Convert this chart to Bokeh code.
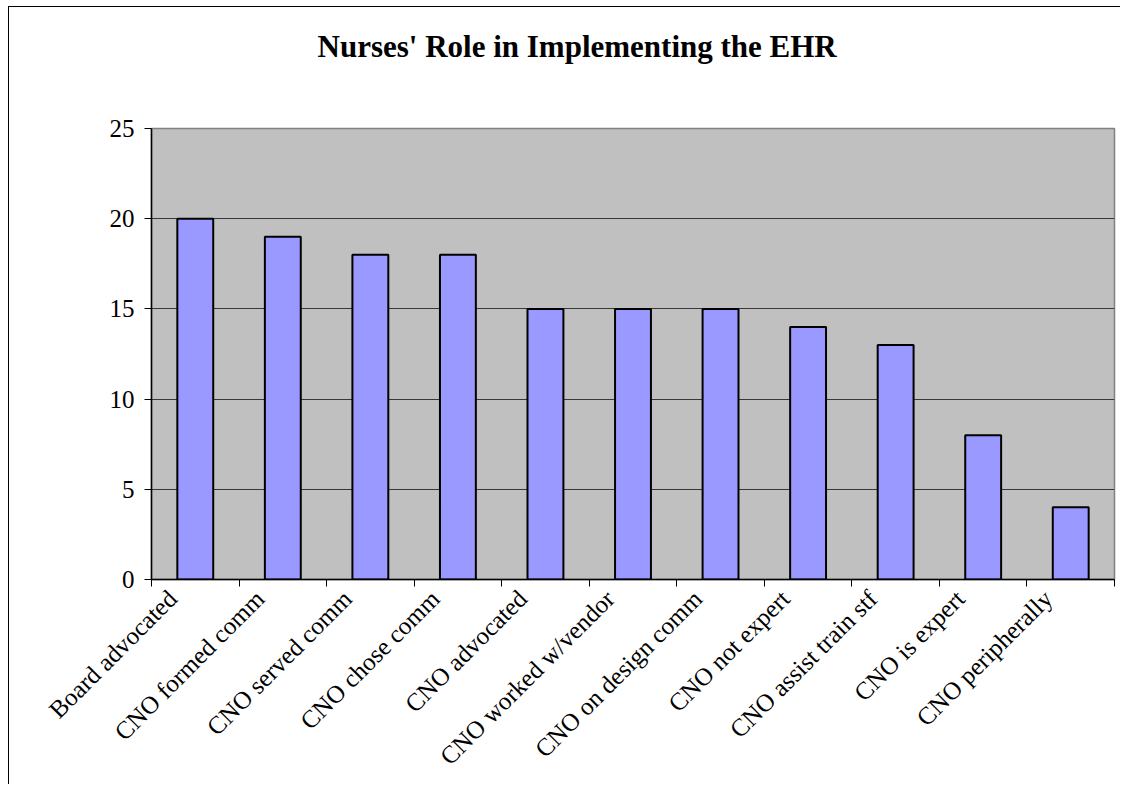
from bokeh.plotting import figure
from bokeh.models import Range1d, FixedTicker, Title
from bokeh.embed import file_html
from bokeh.resources import INLINE
import math

categories = ["Board advocated", "CNO formed comm", "CNO served comm", "CNO chose comm",
              "CNO advocated", "CNO worked w/vendor", "CNO on design comm", "CNO not expert",
              "CNO assist train stf", "CNO is expert", "CNO peripherally"]
values = [20, 19, 18, 18, 15, 15, 15, 14, 13, 8, 4]
y_ticks = [0, 5, 10, 15, 20, 25]
title_text = "Nurses' Role in Implementing the EHR"

n = len(categories)
centers = [i + 0.5 for i in range(n)]
label_pos = [round(c - 0.26, 4) for c in centers]

p = figure(width=1112, height=778, output_backend="svg", toolbar_location=None,
           x_range=Range1d(0, n), y_range=Range1d(0, 25),
           min_border_left=142, min_border_right=7, min_border_top=121, min_border_bottom=206)
p.styles = {"margin-left": "8px", "margin-top": "6px",
            "border-left": "1.5px solid #000000", "border-top": "1.5px solid #000000"}

p.title = Title(text=title_text, align="left", offset=166, text_font="Liberation Serif",
                text_font_size="31px", text_font_style="bold", text_color="#000000", standoff=10)
# empty spacer between the title and the plot area
p.add_layout(Title(text=" ", text_font_size="10px", standoff=47), "above")

p.background_fill_color = "#C0C0C0"
p.border_fill_color = "#FFFFFF"
p.outline_line_color = "#808080"
p.outline_line_width = 1.5

p.vbar(x=centers, top=values, width=0.41, bottom=0, fill_color="#9999FF",
       line_color="#000000", line_width=2)

xa = p.xaxis[0]
xa.ticker = FixedTicker(ticks=label_pos, minor_ticks=list(range(n + 1)))
xa.major_label_overrides = {pos: lab for pos, lab in zip(label_pos, categories)}
xa.major_label_orientation = math.pi / 4
xa.major_tick_line_color = None
xa.major_tick_in = 0
xa.major_tick_out = 0
xa.minor_tick_in = 0
xa.minor_tick_out = 7
xa.minor_tick_line_color = "#000000"
xa.axis_line_color = "#000000"
xa.axis_line_width = 1.5
xa.major_label_text_font = "Liberation Serif"
xa.major_label_text_font_size = "25px"
xa.major_label_text_color = "#000000"
xa.major_label_standoff = 8

ya = p.yaxis[0]
ya.ticker = FixedTicker(ticks=y_ticks, minor_ticks=[])
ya.major_tick_in = 0
ya.major_tick_out = 7
ya.major_tick_line_color = "#000000"
ya.axis_line_color = "#000000"
ya.axis_line_width = 1.5
ya.major_label_text_font = "Liberation Serif"
ya.major_label_text_font_size = "25px"
ya.major_label_text_color = "#000000"
ya.major_label_standoff = 10

p.xgrid.grid_line_color = None
p.ygrid.grid_line_color = "#383838"
p.ygrid.grid_line_width = 1
p.ygrid.ticker = FixedTicker(ticks=y_ticks)

open("out.html", "w").write(file_html(p, INLINE))
